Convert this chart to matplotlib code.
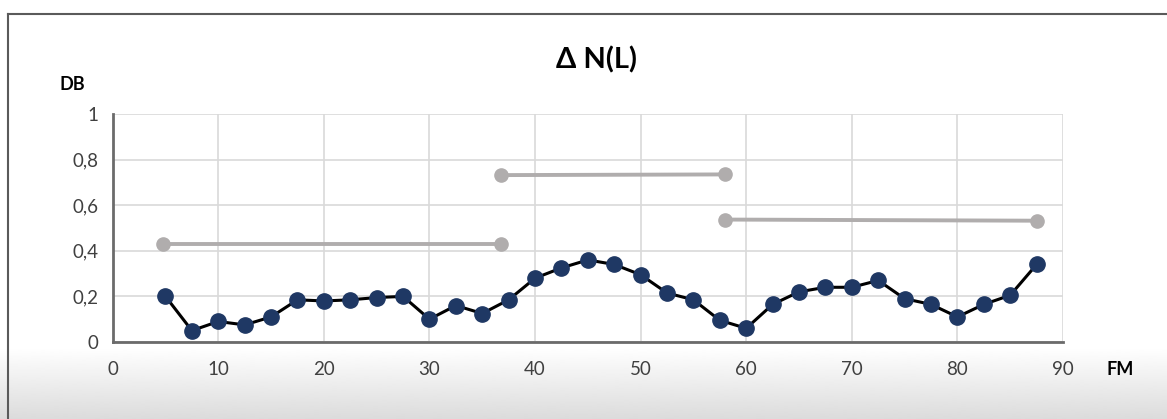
import matplotlib.pyplot as plt
import numpy as np

plt.rcParams['font.family'] = ['Lato', 'DejaVu Sans']

# data
fm = [5, 7.5, 10, 12.5, 15, 17.5, 20, 22.5, 25, 27.5, 30, 32.5, 35, 37.5,
      40, 42.5, 45, 47.5, 50, 52.5, 55, 57.5, 60, 62.5, 65, 67.5, 70, 72.5,
      75, 77.5, 80, 82.5, 85, 87.5]
dn = [0.20, 0.05, 0.09, 0.075, 0.11, 0.185, 0.18, 0.185, 0.195, 0.20, 0.10, 0.16,
      0.125, 0.185, 0.28, 0.325, 0.36, 0.34, 0.295, 0.215, 0.185, 0.095, 0.06,
      0.165, 0.22, 0.24, 0.24, 0.27, 0.19, 0.165, 0.11, 0.165, 0.205, 0.34]

# grey level segments
seg_x = [[4.8, 36.8], [36.8, 58.0], [58.0, 87.5]]
seg_y = [[0.43, 0.43], [0.732, 0.735], [0.537, 0.532]]

title = 'Δ N(L)'
xlab = 'FM'
ylab = 'DB'

W, H = 1167, 419
fig = plt.figure(figsize=(W / 100, H / 100), dpi=100)

# background: white fading to light grey at the bottom, with frame lines
bg = fig.add_axes([0, 0, 1, 1], zorder=-10)
grad = np.ones((H, 1))
start = 348
for i in range(start, H):
    t = (i - start) / (H - start)
    grad[i, 0] = 1 - 0.14 * t
bg.imshow(grad, cmap='gray', vmin=0, vmax=1, aspect='auto',
          extent=[0, W, H, 0], interpolation='bilinear')
bg.plot([8, 8], [H, 14], color='#5a5a5a', lw=1.5)
bg.plot([8, W], [14, 14], color='#5a5a5a', lw=1.5)
bg.set_xlim(0, W)
bg.set_ylim(H, 0)
bg.axis('off')

ax = fig.add_axes([112.7 / W, 1 - 342 / H, (1063 - 112.7) / W, (342 - 114) / H])
ax.set_facecolor('white')

for sx, sy in zip(seg_x, seg_y):
    ax.plot(sx, sy, color='#b0adad', lw=2.8, marker='o', ms=9.5,
            solid_capstyle='round', zorder=3)
ax.plot(fm, dn, color='black', lw=2.2, marker='o', ms=11,
        markerfacecolor='#1f3864', markeredgecolor='#1f3864', zorder=4)

ax.set_xlim(0, 90)
ax.set_ylim(0, 1)
ax.set_xticks(range(0, 91, 10))
ax.set_yticks([0, 0.2, 0.4, 0.6, 0.8, 1])
ax.set_yticklabels(['0', '0,2', '0,4', '0,6', '0,8', '1'])
ax.grid(True, color='#d9d9d9', lw=1.2)
ax.set_axisbelow(True)
for s in ['top', 'right']:
    ax.spines[s].set_visible(False)
for s in ['left', 'bottom']:
    ax.spines[s].set_color('#6b6b6b')
    ax.spines[s].set_linewidth(2)
ax.tick_params(length=0, labelsize=13.5, colors='#404040')
ax.tick_params(axis='x', pad=14)
ax.tick_params(axis='y', pad=10)

fig.text(597 / W, 1 - 60 / H, title, ha='center', va='center',
         fontsize=21, fontweight='bold')
fig.text(72 / W, 1 - 84 / H, ylab, ha='center', va='center',
         fontsize=13, fontweight='bold')
fig.text(1120 / W, 1 - 369 / H, xlab, ha='center', va='center',
         fontsize=13, fontweight='bold')

fig.savefig('out.png', dpi=100)
